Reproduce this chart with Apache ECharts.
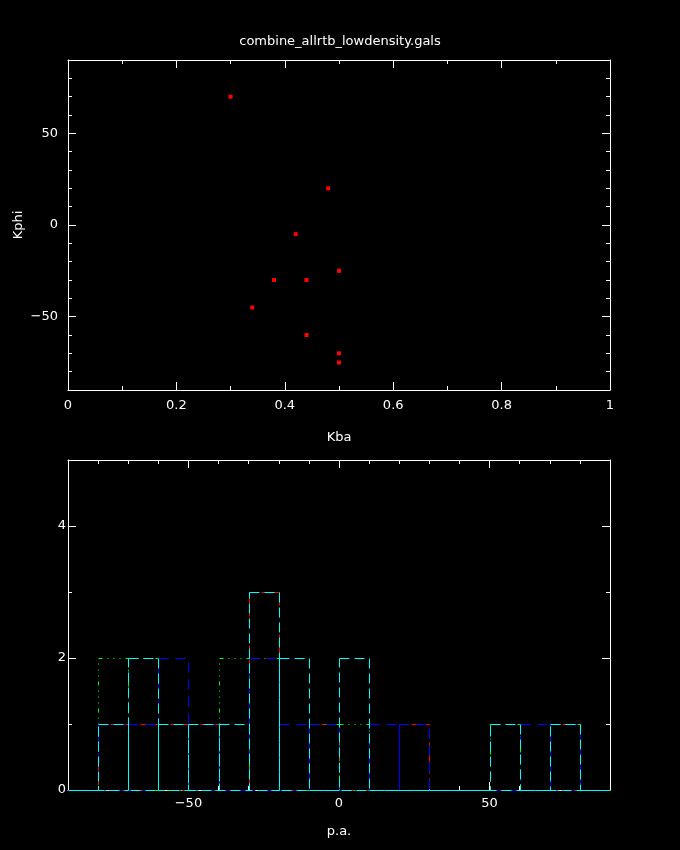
<!DOCTYPE html>
<html><head><meta charset="utf-8">
<script src="https://cdn.jsdelivr.net/npm/echarts@6/dist/echarts.min.js"></script>
<style>html,body{margin:0;padding:0;background:#000;}#c{width:680px;height:850px;}</style>
</head><body><div id="c"></div>
<script>
// ---- data ----
const titleText = 'combine_allrtb_lowdensity.gals';
const kba  = [0.30, 0.48, 0.42, 0.50, 0.38, 0.44, 0.34, 0.44, 0.50, 0.50];
const kphi = [70,   20,   -5,   -25,  -30,  -30,  -45,  -60,  -70,  -75];

const binStarts = [-90,-80,-70,-60,-50,-40,-30,-20,-10,0,10,20,30,40,50,60,70,80];
const binWidth = 10;
const redCounts   = [0,1,1,1,1,0,3,0,1,0,0,1,0,0,0,0,1,0];
const greenCounts = [0,2,2,0,0,2,2,0,1,1,0,0,0,0,1,0,1,0];
const blueCounts  = [0,1,1,2,1,0,2,1,1,0,1,1,0,0,0,1,1,0];
const cyanCounts  = [0,1,2,1,1,1,3,2,0,2,0,0,0,0,1,0,1,0];

// tick values
const kbaMajor  = [0, 0.2, 0.4, 0.6, 0.8, 1];
const kbaMinor  = [0.1, 0.3, 0.5, 0.7, 0.9];
const kphiMajor = [-50, 0, 50];
const kphiMinor = [-80,-70,-60,-40,-30,-20,-10,10,20,30,40,60,70,80];
const paMajor   = [-50, 0, 50];
const paMinor   = [-80,-70,-60,-40,-30,-20,-10,10,20,30,40,60,70,80];
const cntMajor  = [0, 2, 4];
const cntMinor  = [1, 3, 5];

// ---- build ----
const FONT = 'DejaVu Sans';
const fmt = v => String(v).replace('-', '\u2212');

function axisPair(dim, grid, min, max, major, minor, lab) {
  const sides = dim === 'x' ? ['bottom','top'] : ['left','right'];
  const out = [];
  sides.forEach((pos, si) => {
    [0,1].forEach(k => {
      const isMajor = k === 0;
      const a = {
        type: 'value', gridIndex: grid, position: pos, offset: 0,
        min: min, max: max,
        splitLine: {show: false},
        axisLine: {show: isMajor, onZero: false, lineStyle: {color: '#fff', width: 1}},
        axisTick: {show: true, inside: true, length: isMajor ? 8 : 4,
                   customValues: isMajor ? major : minor,
                   lineStyle: {color: '#fff', width: 1}},
        axisLabel: {show: false}
      };
      if (si === 0 && isMajor) {
        a.axisLabel = {show: true, customValues: major, color: '#fff',
          fontFamily: FONT, fontSize: 13, margin: lab.margin, formatter: fmt};
        if (lab.name) {
          a.name = lab.name; a.nameLocation = 'middle'; a.nameGap = lab.nameGap;
          a.nameMoveOverlap = false;
          a.nameTextStyle = {color: '#fff', fontFamily: FONT, fontSize: 13};
        }
      }
      out.push(a);
    });
  });
  return out;
}

const xAxes = [].concat(
  axisPair('x', 0, 0, 1, kbaMajor, kbaMinor, {margin: 9, name: 'Kba', nameGap: 41}),
  axisPair('x', 1, -90, 90, paMajor, paMinor, {margin: 7, name: 'p.a.', nameGap: 35})
);
const yAxes = [].concat(
  axisPair('y', 0, -90, 90, kphiMajor, kphiMinor, {margin: 10, name: 'Kphi', nameGap: 43}),
  axisPair('y', 1, 0, 5, cntMajor, cntMinor, {margin: 2})
);

function histSeries(counts, color, dash) {
  return {
    type: 'custom', xAxisIndex: 4, yAxisIndex: 4,
    data: binStarts.map((b, i) => [b, b + binWidth, counts[i]]),
    renderItem: function (params, api) {
      const p0 = api.coord([api.value(0), 0]);
      const p1 = api.coord([api.value(1), api.value(2)]);
      return {
        type: 'rect',
        shape: {x: Math.round(p0[0]) + 0.5, y: Math.round(p1[1]) + 0.5,
                width: Math.round(p1[0]) - Math.round(p0[0]),
                height: Math.round(p0[1]) - Math.round(p1[1])},
        style: {fill: 'none', stroke: color, lineWidth: 1, lineDash: dash, opacity: 1}
      };
    },
    silent: true, animation: false
  };
}

const option = {
  backgroundColor: '#000',
  animation: false,
  title: {text: titleText, left: 'center', top: 30,
          textStyle: {color: '#fff', fontFamily: FONT, fontSize: 13, fontWeight: 'normal'}},
  grid: [
    {left: 68, top: 60, width: 542, height: 330},
    {left: 68, top: 460, width: 542, height: 330}
  ],
  xAxis: xAxes,
  yAxis: yAxes,
  series: [
    {type: 'scatter', xAxisIndex: 0, yAxisIndex: 0,
     data: kba.map((v, i) => [v, kphi[i]]),
     symbol: 'rect', symbolSize: 4, itemStyle: {color: '#ff0000', opacity: 1}},
    histSeries(redCounts,   '#ff0000', [7, 5]),
    histSeries(greenCounts, '#00ff00', [4, 5, 1, 5, 1, 5, 1, 5]),
    histSeries(blueCounts,  '#0000ff', [10, 7]),
    histSeries(cyanCounts,  '#00ffff', [10, 5])
  ]
};
const chart = echarts.init(document.getElementById('c'), null, {renderer: 'canvas'});
chart.setOption(option);
</script>
</body></html>
